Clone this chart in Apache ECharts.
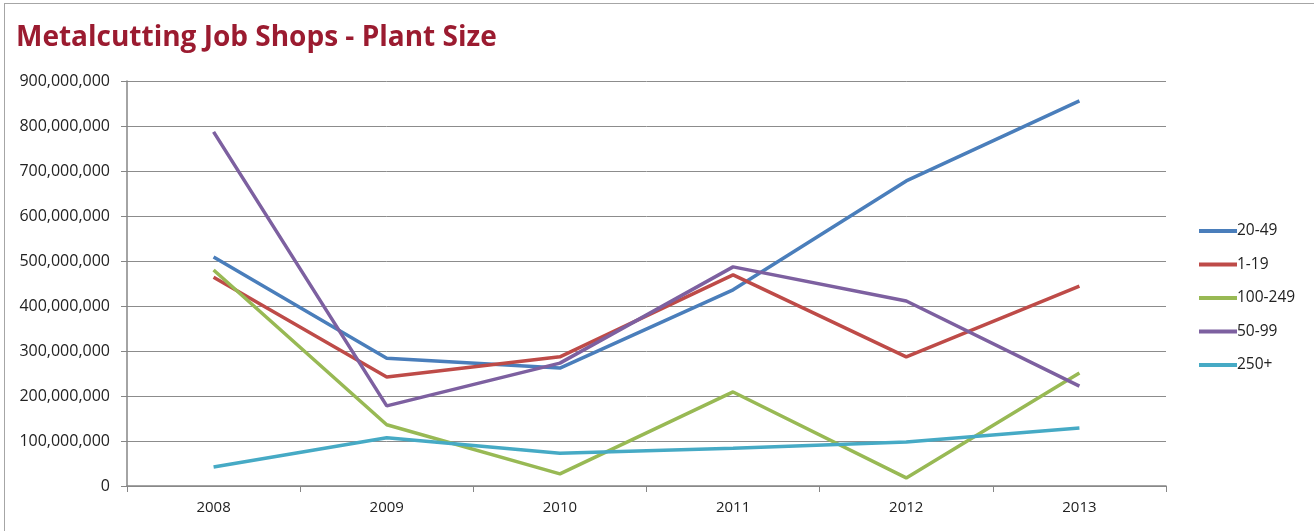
<!DOCTYPE html>
<html>
<head>
<meta charset="utf-8">
<style>
html,body{margin:0;padding:0;background:#fff;}
#frame{position:absolute;left:4px;top:3px;width:1320px;height:540px;border:1.5px solid #a6a6a6;box-sizing:border-box;}
#chart{position:absolute;left:0;top:0;width:1314px;height:531px;}
</style>
<script src="https://cdn.jsdelivr.net/npm/echarts@6/dist/echarts.min.js"></script>
</head>
<body>
<div id="frame"></div>
<div id="chart"></div>
<script>
const categories = ['2008','2009','2010','2011','2012','2013'];
const s20_49   = [509e6, 284e6, 262e6, 436e6, 678e6, 856e6];
const s1_19    = [464e6, 242e6, 287e6, 469e6, 287e6, 444e6];
const s100_249 = [480e6, 136e6, 27e6, 209e6, 18e6, 251e6];
const s50_99   = [787e6, 178e6, 273e6, 487e6, 411e6, 222e6];
const s250p    = [42e6, 107e6, 73e6, 84e6, 98e6, 129e6];
const seriesNames = ['20-49','1-19','100-249','50-99','250+'];
const seriesData = [s20_49, s1_19, s100_249, s50_99, s250p];
const colors = ['#4a7ebb','#be4b48','#98b954','#7d60a0','#46aac5'];

const chart = echarts.init(document.getElementById('chart'));
chart.setOption({
  animation:false,
  color: colors,
  title:{
    text:'Metalcutting Job Shops - Plant Size',
    left:11, top:19,
    textStyle:{fontFamily:'Open Sans', fontWeight:'bold', fontSize:28, color:'#9b1b30'}
  },
  legend:{
    orient:'vertical', left:1194, top:218, itemGap:17.5,
    itemWidth:38, itemHeight:4, icon:'rect',
    textStyle:{fontFamily:'Open Sans', fontSize:15.5, lineHeight:16, color:'#222', padding:[0,0,0,-5]},
    data: seriesNames
  },
  grid:{left:127, right:148, top:81, bottom:45},
  xAxis:{
    type:'category', data:categories, boundaryGap:true,
    axisLine:{lineStyle:{color:'#868686', width:1.5}},
    axisTick:{show:true, length:6, lineStyle:{color:'#868686'}},
    axisLabel:{fontFamily:'Open Sans', fontSize:15, color:'#222', margin:14}
  },
  yAxis:{
    type:'value', min:0, max:900000000, interval:100000000,
    axisLine:{show:true, lineStyle:{color:'#868686', width:1.5}},
    axisTick:{show:true, length:6, lineStyle:{color:'#868686'}},
    splitLine:{lineStyle:{color:'#8c8c8c', width:1}},
    axisLabel:{fontFamily:'Open Sans', fontSize:16, color:'#222', margin:17,
      formatter: v => v.toLocaleString('en-US')}
  },
  series: seriesNames.map((n,i)=>({
    name:n, type:'line', data:seriesData[i], symbol:'none',
    lineStyle:{width:3.5, color:colors[i]}, itemStyle:{color:colors[i]}
  }))
});
</script>
</body>
</html>
